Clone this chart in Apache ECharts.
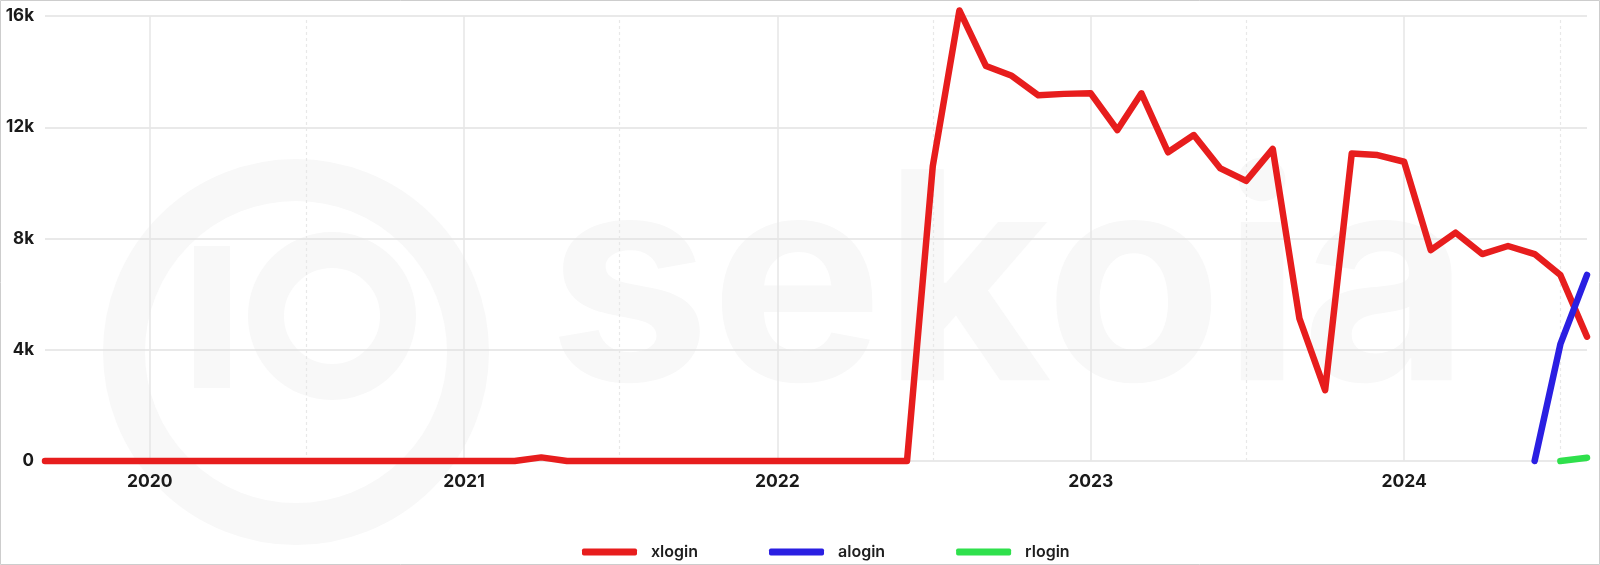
<!DOCTYPE html>
<html>
<head>
<meta charset="utf-8">
<script src="https://cdn.jsdelivr.net/npm/echarts@6/dist/echarts.min.js"></script>
<style>
html,body{margin:0;padding:0;background:#fff;}
#c{width:1600px;height:565px;}
</style>
</head>
<body>
<div id="c"></div>
<script>
// ---- data ----
const months = [
  '2019-09-01','2019-10-01','2019-11-01','2019-12-01',
  '2020-01-01','2020-02-01','2020-03-01','2020-04-01','2020-05-01','2020-06-01',
  '2020-07-01','2020-08-01','2020-09-01','2020-10-01','2020-11-01','2020-12-01',
  '2021-01-01','2021-02-01','2021-03-01','2021-04-01','2021-05-01','2021-06-01',
  '2021-07-01','2021-08-01','2021-09-01','2021-10-01','2021-11-01','2021-12-01',
  '2022-01-01','2022-02-01','2022-03-01','2022-04-01','2022-05-01','2022-06-01',
  '2022-07-01','2022-08-01','2022-09-01','2022-10-01','2022-11-01','2022-12-01',
  '2023-01-01','2023-02-01','2023-03-01','2023-04-01','2023-05-01','2023-06-01',
  '2023-07-01','2023-08-01','2023-09-01','2023-10-01','2023-11-01','2023-12-01',
  '2024-01-01','2024-02-01','2024-03-01','2024-04-01','2024-05-01','2024-06-01',
  '2024-07-01','2024-08-01'
];
const xlogin = [
  0,0,0,0,
  0,0,0,0,0,0, 0,0,0,0,0,0,
  0,0,0,130,0,0, 0,0,0,0,0,0,
  0,0,0,0,0,0, 10600,16200,14200,13850,13150,13200,
  13220,11900,13220,11100,11720,10520, 10070,11220,5130,2550,11060,11000,
  10760,7580,8210,7440,7730,7440, 6690,4470
];
const alogin = [
  null,null,null,null,
  null,null,null,null,null,null, null,null,null,null,null,null,
  null,null,null,null,null,null, null,null,null,null,null,null,
  null,null,null,null,null,null, null,null,null,null,null,null,
  null,null,null,null,null,null, null,null,null,null,null,null,
  null,null,null,null,null,0, 4200,6690
];
const rlogin = [
  null,null,null,null,
  null,null,null,null,null,null, null,null,null,null,null,null,
  null,null,null,null,null,null, null,null,null,null,null,null,
  null,null,null,null,null,null, null,null,null,null,null,null,
  null,null,null,null,null,null, null,null,null,null,null,null,
  null,null,null,null,null,null, 0,120
];
const seriesNames = ['xlogin','alogin','rlogin'];
const seriesColors = ['#e71d1d','#2a1fe2','#2fe04c'];
const yearTicks = ['2020-01-01','2021-01-01','2022-01-01','2023-01-01','2024-01-01'];
const halfYearTicks = ['2020-07-01','2021-07-01','2022-07-01','2023-07-01','2024-07-01'];

// ---- chart ----
const pair = arr => months.map((m,i)=>[m, arr[i]]);
const FONT = 'Inter, "Noto Sans", sans-serif';
const WM = '#f8f8f8';

const chart = echarts.init(document.getElementById('c'), null, {renderer:'canvas'});

const lineSeries = (name, data, color) => ({
  name, type:'line', data: pair(data), showSymbol:false, symbol:'none',
  clip:false, connectNulls:false,
  lineStyle:{color, width:6.5, cap:'round', join:'round'},
  itemStyle:{color}, emphasis:{disabled:true}
});

chart.setOption({
  animation:false,
  backgroundColor:'#ffffff',
  grid:{left:45, right:13, top:16, bottom:104, containLabel:false},
  graphic:[
    {type:'rect', z:100, silent:true, shape:{x:0.5,y:0.5,width:1599,height:564},
     style:{fill:'none', stroke:'#cdcdcd', lineWidth:1}},
    {type:'circle', z:-10, silent:true, shape:{cx:296, cy:352, r:172},
     style:{fill:'none', stroke:WM, lineWidth:42}},
    {type:'rect', z:-10, silent:true, shape:{x:194, y:246, width:36, height:142},
     style:{fill:WM}},
    {type:'circle', z:-10, silent:true, shape:{cx:332, cy:316, r:66},
     style:{fill:'none', stroke:WM, lineWidth:36}},
    {type:'text', z:-10, silent:true, left:548, top:148,
     style:{text:'sekoia', fill:WM, font:'bold 290px Inter, sans-serif'}}
  ],
  legend:{
    data: seriesNames,
    left:577, top:537,
    icon:'roundRect', itemWidth:55, itemHeight:7, itemGap:71,
    textStyle:{fontFamily:FONT, fontSize:16, fontWeight:600, color:'#1e1e1e', padding:[0,0,0,9], lineHeight:20}
  },
  xAxis:{
    type:'time',
    min: months[0], max: months[months.length-1],
    axisLine:{show:false}, axisTick:{show:false}, splitLine:{show:false},
    axisLabel:{
      formatter: function (v) { const d = new Date(v); return (d.getMonth()===0 && d.getDate()===1) ? String(d.getFullYear()) : ''; },
      fontFamily:FONT, fontSize:17.5, fontWeight:'bold', color:'#1a1a1a', margin:12,
      showMinLabel:false, showMaxLabel:false
    }
  },
  yAxis:{
    type:'value', min:0, max:16000, interval:4000,
    axisLine:{show:false}, axisTick:{show:false},
    splitLine:{lineStyle:{color:'#e2e2e2', width:1.5}},
    axisLabel:{
      formatter: v => v===0 ? '0' : (v/1000)+'k',
      fontFamily:FONT, fontSize:17, fontWeight:'bold', color:'#1a1a1a', margin:11
    }
  },
  series:[
    lineSeries(seriesNames[0], xlogin, seriesColors[0]),
    lineSeries(seriesNames[1], alogin, seriesColors[1]),
    lineSeries(seriesNames[2], rlogin, seriesColors[2])
  ]
});
// grid lines at year / half-year boundaries, placed through the axis scale
chart.setOption({
  series:[{
    markLine:{symbol:'none', silent:true, animation:false, label:{show:false},
      emphasis:{disabled:true}, z:1,
      data: yearTicks.map(t=>({xAxis:t, lineStyle:{color:'#e6e6e6', type:'solid', width:1.5}}))
        .concat(halfYearTicks.map(t=>({xAxis:t, lineStyle:{color:'#e8e8e8', type:[3,3], width:1.2}})))
    }
  }]
});
</script>
</body>
</html>
